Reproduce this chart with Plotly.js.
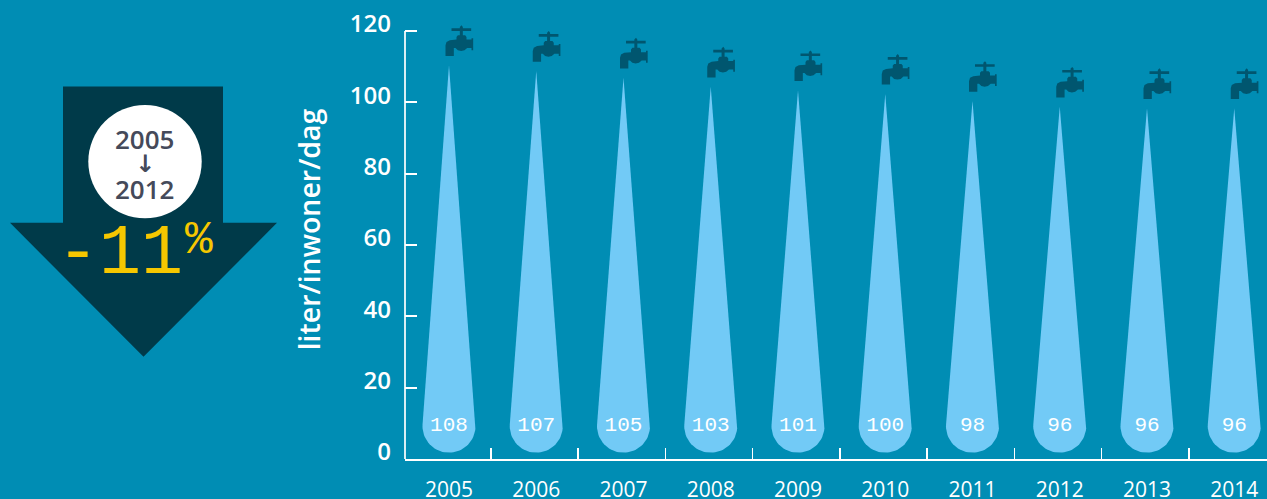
<!DOCTYPE html>
<html><head><meta charset="utf-8">
<script src="https://cdn.plot.ly/plotly-3.0.1.min.js"></script>
<style>html,body{margin:0;padding:0;background:#008db4;overflow:hidden}</style>
</head><body><div id="chart" style="width:1267px;height:499px"></div>
<script>
const years = [2005,2006,2007,2008,2009,2010,2011,2012,2013,2014];
const litres = [108,107,105,103,101,100,98,96,96,96];
const dropTops = [108,106.4,104.5,102,101,100,98,96.4,96,96];
const yTicks = [0,20,40,60,80,100,120];

const W=1267,H=499,L=405,B=459.3;
const pxX=87.25, pxY=(B-31)/120, x0=2005-44/pxX;
const bg='#008db4', dropCol='#72caf6', tapCol='#00566f', arrowCol='#003a49', yel='#f6c700', ink='#454a5a';

function drop(year,v){
  const r=26.5, h=v*3.59, xs=[], ys=[];
  const a=Math.asin(r/(h-r));
  const push=(dx,up)=>{xs.push(year+dx/pxX); ys.push((up+6.3)/pxY);};
  push(0,h);
  for(let i=0;i<=40;i++){
    const t=a-(Math.PI+2*a)*i/40;
    push(r*Math.cos(t),r+r*Math.sin(t));
  }
  push(0,h);
  return {x:xs,y:ys};
}
const tapOutline=[[178,50],[183,45],[187,50],[187,54],[212,54],[212,62],[187,62],[187,75],[194,75],[198,80],[198,88],[213,88],[213,84],[218,84],[218,120],[213,120],[213,113],[200,113],[192,120],[182,122],[172,120],[165,113],[160,113],[160,137],[135,137],[135,105],[138,95],[148,90],[168,88],[168,80],[172,75],[178,75],[178,62],[153,62],[153,54],[178,54],[178,50]];
function tap(year,v){
  const tipUp=v*3.59+6.3;
  return {x:tapOutline.map(p=>year+(p[0]/3-48.5)/pxX),
          y:tapOutline.map(p=>(tipUp+55-p[1]/3)/pxY)};
}
const traces=[];
years.forEach((yr,i)=>{
  const d=drop(yr,dropTops[i]);
  traces.push({type:'scatter',mode:'lines',x:d.x,y:d.y,fill:'toself',fillcolor:dropCol,line:{width:0,color:dropCol},hoverinfo:'skip',showlegend:false});
  const t=tap(yr,dropTops[i]);
  traces.push({type:'scatter',mode:'lines',x:t.x,y:t.y,fill:'toself',fillcolor:tapCol,line:{width:0,color:tapCol},hoverinfo:'skip',showlegend:false});
});
traces.push({type:'scatter',mode:'text',x:years,y:years.map(()=>9.4),text:litres.map(String),textposition:'middle center',
  textfont:{family:'Liberation Mono',size:21,color:'#fff'},hoverinfo:'skip',showlegend:false});

const fx=x=>(x-L)/(W-L), fy=y=>(B-y)/B;
const arrow=[[63,86.5],[223,86.5],[223,223],[277,223],[143.5,357],[10,223],[63,223]];
const arrowPath='M'+arrow.map(p=>fx(p[0])+','+fy(p[1])).join('L')+'Z';
const cx=145,cy=161.7,rc=56.7;
const txt=(s,x,y,size,color,family,weight)=>({text:s,xref:'paper',yref:'paper',x:fx(x),y:fy(y),showarrow:false,xanchor:'center',yanchor:'middle',font:{family:family||'Open Sans',size,color,weight:weight||400}});
const layout={
  width:W,height:H,margin:{l:L,r:0,t:0,b:H-B},
  paper_bgcolor:bg,plot_bgcolor:bg,showlegend:false,hovermode:false,
  font:{family:'Open Sans',color:'#fff'},
  xaxis:{type:'linear',range:[x0,x0+(W-L)/pxX],tickmode:'array',tickvals:years,ticktext:years.map(String),ticks:'',
    tickfont:{family:'Open Sans',size:21,color:'#fff'},showgrid:false,zeroline:false,showline:true,linecolor:'#fff',linewidth:1.7,ticklabelstandoff:11,
    minor:{tickmode:'array',tickvals:years.map(y=>y+0.48),ticks:'inside',ticklen:11,tickwidth:1.7,tickcolor:'#fff',showgrid:false}},
  yaxis:{range:[0,B/pxY],tickmode:'array',tickvals:yTicks,ticktext:yTicks.map(String),ticks:'inside',ticklen:12,tickwidth:1.7,tickcolor:'#fff',
    tickfont:{family:'Open Sans',size:24,color:'#fff',weight:600},showgrid:false,zeroline:false,showline:false,ticklabelshift:-7,ticklabelstandoff:13,
    title:{text:'liter/inwoner/dag',font:{family:'Open Sans',size:28.5,color:'#fff',weight:600},standoff:20}},
  shapes:[
    {type:'path',xref:'paper',yref:'paper',path:arrowPath,fillcolor:arrowCol,line:{width:0},layer:'below'},
    {type:'circle',xref:'paper',yref:'paper',x0:fx(cx-rc),x1:fx(cx+rc),y0:fy(cy+rc),y1:fy(cy-rc),fillcolor:'#fff',line:{width:0},layer:'below'},
    {type:'line',xref:'paper',yref:'y',x0:0,x1:0,y0:0,y1:120,line:{color:'#fff',width:1.7},layer:'above'}
  ],
  annotations:[
    txt('2005',144.5,139,26,ink,'Open Sans',600),
    txt('↓',144.5,164,24,ink,'DejaVu Sans',700),
    txt('2012',144.5,189,26,ink,'Open Sans',600),
    txt('-11',120,255,70,yel,'Liberation Mono',400),
    txt('%',198.5,241,46,yel,'Liberation Mono',400)
  ]
};
Plotly.newPlot('chart',traces,layout,{displayModeBar:false,staticPlot:true});
</script></body></html>
